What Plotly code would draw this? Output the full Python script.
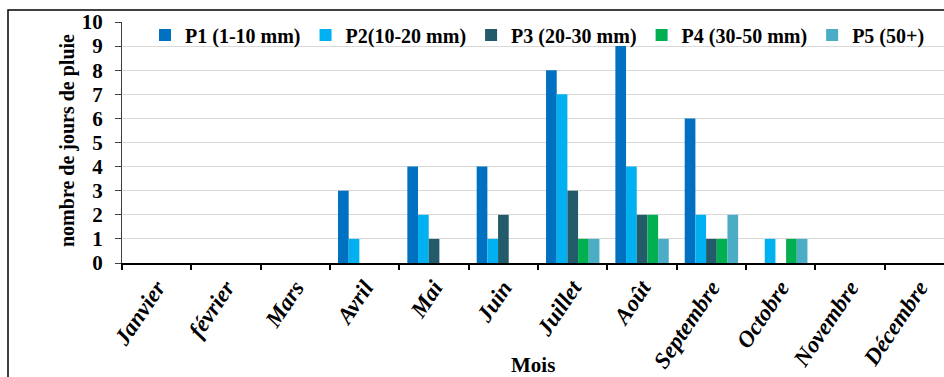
import plotly.graph_objects as go

months = ["Janvier", "février", "Mars", "Avril", "Mai", "Juin", "Juillet",
          "Août", "Septembre", "Octobre", "Novembre", "Décembre"]
series_names = ["P1 (1-10 mm)", "P2(10-20 mm)", "P3 (20-30 mm)", "P4 (30-50 mm)", "P5 (50+)"]
p1 = [0, 0, 0, 3, 4, 4, 8, 9, 6, 0, 0, 0]
p2 = [0, 0, 0, 1, 2, 1, 7, 4, 2, 1, 0, 0]
p3 = [0, 0, 0, 0, 1, 2, 3, 2, 1, 0, 0, 0]
p4 = [0, 0, 0, 0, 0, 0, 1, 2, 1, 1, 0, 0]
p5 = [0, 0, 0, 0, 0, 0, 1, 1, 2, 1, 0, 0]
y_ticks = list(range(0, 11))

colors = ["#0070C0", "#00B0F0", "#235B6A", "#00B050", "#4BACC6"]
FONT = "Liberation Serif, Times New Roman, DejaVu Serif, serif"

fig = go.Figure()
for name, vals, col in zip(series_names, [p1, p2, p3, p4, p5], colors):
    fig.add_trace(go.Bar(x=months, y=vals, name=name, marker_color=col,
                         marker_line_width=0))

fig.update_layout(
    width=944, height=377,
    margin=dict(l=122, r=0, t=22, b=114),
    paper_bgcolor="white", plot_bgcolor="white",
    barmode="group", bargap=0.23, bargroupgap=0,
    showlegend=True,
    legend=dict(orientation="h", x=0.028, xanchor="left", y=0.946, yanchor="middle",
                bgcolor="rgba(0,0,0,0)", traceorder="normal",
                font=dict(family=FONT, size=20, color="black", weight="bold")),
    font=dict(family=FONT, color="black"),
)

fig.update_xaxes(
    range=[-0.5, 11.354],
    showline=True, linecolor="black", linewidth=2,
    ticks="outside", ticklen=5, tickwidth=2, tickcolor="black",
    tickson="boundaries",
    tickangle=-56,
    tickfont=dict(family=FONT, size=23, color="black", weight="bold", style="italic"),
    showgrid=False, zeroline=False,
)
fig.update_yaxes(
    range=[0, 10], tickvals=y_ticks,
    showline=True, linecolor="#404040", linewidth=1,
    ticks="outside", ticklen=6, tickwidth=1, tickcolor="#404040",
    ticklabelstandoff=8,
    tickfont=dict(family=FONT, size=21, color="black", weight="bold"),
    showgrid=True, gridcolor="#D9D9D9", gridwidth=1,
    zeroline=False,
)

# outer frame (partially cropped on the right and bottom)
fig.add_shape(type="rect", xref="paper", yref="paper",
              x0=(8 - 122) / 822, x1=(960 - 122) / 822,
              y0=-0.6, y1=(263 - 10) / 241,
              line=dict(color="black", width=1.5), fillcolor="rgba(0,0,0,0)")

fig.add_annotation(text="nombre de jours de pluie", xref="paper", yref="paper",
                   x=(67 - 122) / 822, y=(263 - 141) / 241, showarrow=False,
                   textangle=-90, xanchor="center", yanchor="middle",
                   font=dict(family=FONT, size=20, color="black", weight="bold"))
fig.add_annotation(text="Mois", xref="paper", yref="paper",
                   x=(533 - 122) / 822, y=(263 - 365) / 241, showarrow=False,
                   xanchor="center", yanchor="middle",
                   font=dict(family=FONT, size=21, color="black", weight="bold"))

fig.write_html("out.html")
